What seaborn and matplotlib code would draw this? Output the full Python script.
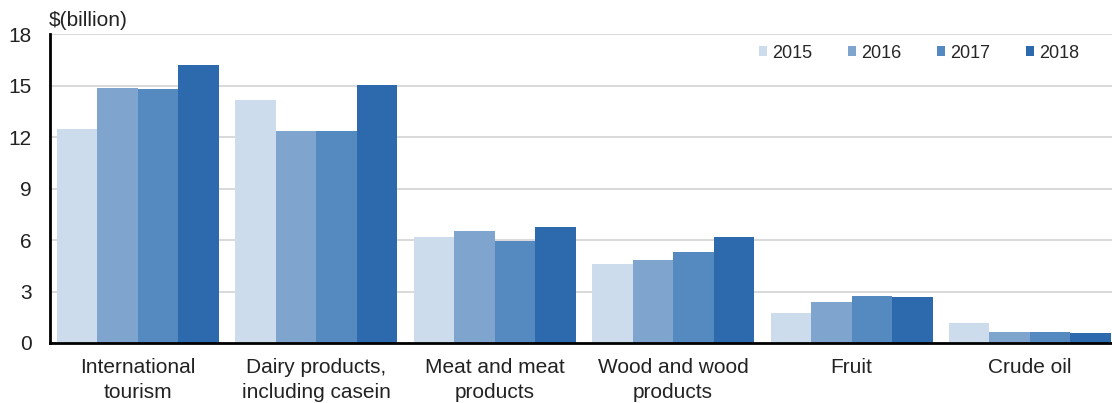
import numpy as np
import pandas as pd
import seaborn as sns
import matplotlib
matplotlib.use("Agg")
import matplotlib.pyplot as plt

categories = ["International\ntourism", "Dairy products,\nincluding casein", "Meat and meat\nproducts",
              "Wood and wood\nproducts", "Fruit", "Crude oil"]
years = ["2015", "2016", "2017", "2018"]
v2015 = [12.45, 14.17, 6.16, 4.60, 1.75, 1.16]
v2016 = [14.83, 12.35, 6.54, 4.81, 2.37, 0.62]
v2017 = [14.77, 12.35, 5.96, 5.28, 2.72, 0.62]
v2018 = [16.17, 15.04, 6.77, 6.16, 2.66, 0.56]
colors = ["#cddcec", "#7fa5cf", "#558ac0", "#2c6aad"]
yticks = [0, 3, 6, 9, 12, 15, 18]

rows = []
for y, vals in zip(years, [v2015, v2016, v2017, v2018]):
    for c, v in zip(categories, vals):
        rows.append({"category": c, "year": y, "value": v})
df = pd.DataFrame(rows)

sns.set_theme(style="white")
plt.rcParams["font.family"] = ["Liberation Sans", "DejaVu Sans"]

fig = plt.figure(figsize=(11.12, 4.03), dpi=100)
ax = fig.add_axes([50/1112, 60/403, (1112-50)/1112, (343-34)/403])

sns.barplot(data=df, x="category", y="value", hue="year", palette=colors,
            width=0.908, saturation=1, ax=ax, linewidth=0, order=categories, hue_order=years)

ax.set_ylim(0, 18)
ax.set_xlim(-0.493, 5.46)
ax.set_yticks(yticks)
ax.set_yticklabels([str(t) for t in yticks], fontsize=15, color="#222222")
ax.tick_params(axis="x", labelsize=15, colors="#222222", pad=11, length=0)
ax.tick_params(axis="y", length=0, pad=13)
for lab in ax.get_xticklabels():
    lab.set_linespacing(1.4)
ax.set_xlabel("")
ax.set_ylabel("")
ax.grid(axis="y", color="#d9d9d9", linewidth=1.4)
ax.set_axisbelow(True)
for s in ["top", "right"]:
    ax.spines[s].set_visible(False)
for s in ["left", "bottom"]:
    ax.spines[s].set_color("black")
    ax.spines[s].set_linewidth(2)
ax.spines["bottom"].set_zorder(5)

fig.text(49/1112, 1 - 20/403, "$(billion)", fontsize=15, color="#222222", va="center", ha="left")

handles, labels = ax.get_legend_handles_labels()
ax.legend(handles, labels, ncol=4, frameon=False, loc="center left",
          bbox_to_anchor=(759/1112, 1 - 53/403), bbox_transform=fig.transFigure,
          fontsize=13, handlelength=0.45, handleheight=0.45, handletextpad=0.3,
          columnspacing=1.95, borderaxespad=0, borderpad=0)

fig.savefig("out.png", dpi=100)
